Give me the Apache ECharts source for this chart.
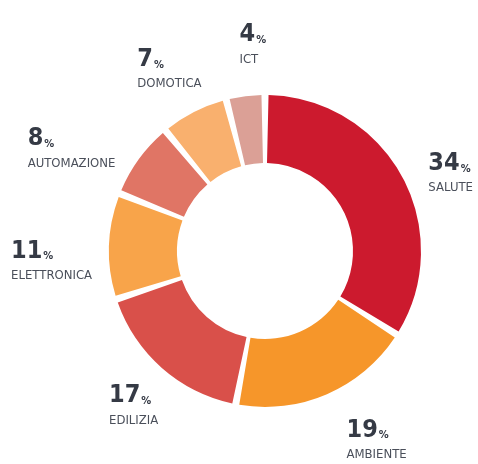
<!DOCTYPE html>
<html><head><meta charset="utf-8">
<script src="https://cdn.jsdelivr.net/npm/echarts@6/dist/echarts.min.js"></script>
<style>html,body{margin:0;padding:0;background:#fff}#c{width:478px;height:464px}</style>
</head><body><div id="c"></div>
<script>
const categories = ['SALUTE','AMBIENTE','EDILIZIA','ELETTRONICA','AUTOMAZIONE','DOMOTICA','ICT'];
const values = [34,19,17,11,8,7,4];
const colors = ['#cc1a2e','#f6962a','#d9504a','#f8a44a','#e07565','#f9b06e','#dba096'];
// label fine-tuning offsets (style only)
const labelNudge = {
  SALUTE:[5,7], AMBIENTE:[7,29], EDILIZIA:[14,24], ELETTRONICA:[7,16],
  AUTOMAZIONE:[-3,1], DOMOTICA:[21,-25], ICT:[28,-32]
};

const chart = echarts.init(document.getElementById('c'));
const font = "'DejaVu Sans Condensed','Liberation Sans Narrow',sans-serif";
chart.setOption({
  animation:false,
  series:[{
    type:'pie',
    center:[265,251],
    radius:[88,156],
    startAngle:90,
    clockwise:true,
    padAngle:2.6,
    avoidLabelOverlap:false,
    data: categories.map((c,i)=>({name:c,value:values[i],itemStyle:{color:colors[i]}})),
    label:{
      show:true,
      position:'outside',
      formatter: p => '{v|'+p.value+'}{p|%}\n{n|'+p.name+'}',
      rich:{
        v:{fontFamily:font,fontWeight:'bold',fontSize:25,color:'#353a45',align:'left',lineHeight:28},
        p:{fontFamily:font,fontWeight:'bold',fontSize:11,color:'#353a45',align:'left',verticalAlign:'bottom',padding:[0,0,3,1]},
        n:{fontFamily:font,fontSize:13,color:'#4a4f5a',align:'left',lineHeight:21}
      }
    },
    labelLine:{show:false,length:19,length2:0},
    labelLayout: p => {
      const n = labelNudge[categories[p.dataIndex]];
      return {dx:n[0], dy:n[1]};
    }
  }]
});
</script></body></html>
